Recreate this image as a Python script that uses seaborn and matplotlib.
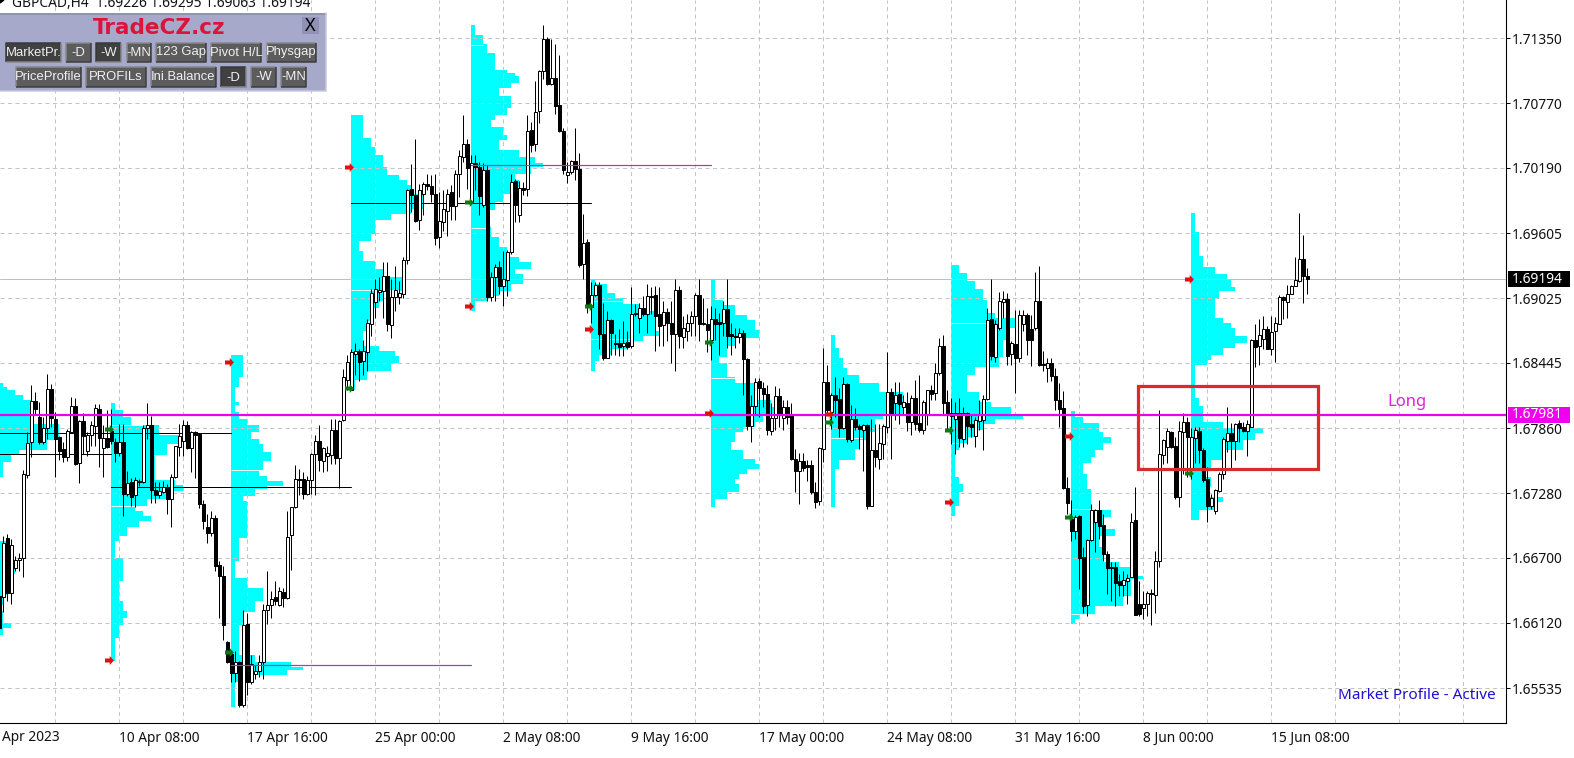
import numpy as np
import matplotlib
matplotlib.use("Agg")
import matplotlib.pyplot as plt
import seaborn as sns
from matplotlib.patches import Rectangle, Polygon
from matplotlib.path import Path

# prices are in broker points (1.67860 = 167860), first bar is bar -1
opens = [166355,
166346,166880,166385,166610,166682,166700,167444,167735,168104,167960,
167741,167864,168215,167945,167780,167675,167600,167831,168056,167546,
167921,167660,167804,167879,168035,167681,167774,167840,167741,167636,
167741,167270,167381,167261,167390,167375,167861,167891,167309,167261,
167294,167336,167225,167420,167690,167750,167885,167681,167831,167810,
167180,166979,166925,167054,166634,166541,165950,165836,165674,165770,
165380,166109,165590,165665,165686,165764,166235,166280,166346,166280,
166394,166340,166901,167156,167405,167405,167270,167396,167630,167750,
167570,167609,167624,167846,167594,
167930,168295,168205,168526,168550,168466,168544,168796,168994,169084,
169090,169225,168784,169036,169039,169066,169366,169999,169951,169720,
169954,170044,170029,169960,169570,169705,169804,169972,169849,170134,
170290,170404,169885,170230,170194,169855,170170,169036,169216,169306,
169135,169186,169435,170071,169765,170014,170005,170530,170404,170704,
171055,171340,170941,170995,170755,170524,170131,170155,170254,170176,
169330,169531,168949,169054,169144,168706,168490,168826,168625,168625,
168592,168631,168595,168880,168850,168934,168880,169045,169054,168880,
168784,168901,168805,168706,169096,168679,168730,168799,168865,169054,
168802,168793,168652,168838,168808,168802,168928,168706,168688,168676,
168712,168478,167881,168061,168283,168223,168163,167836,167953,168148,
167956,168046,167986,167581,167482,167563,167527,167527,167293,167206,
167677,168271,168007,168157,168121,167863,168256,167752,167941,167878,
167848,167887,167167,167662,167581,167722,167872,168187,168082,168163,
168052,168082,167917,168127,167908,167842,167977,168202,168172,168352,
168592,168091,167968,167947,168001,167767,168001,167896,167791,167926,
167932,168118,168838,168502,168757,168988,169018,168526,168616,168493,
168793,168877,168748,168757,169003,
168439,168400,168445,168325,168115,168040,167329,167050,166939,167071,
166705,166276,166861,167020,167125,166990,166735,166621,166621,166495,
166456,166495,166525,167035,166285,166249,166291,166387,166366,166669,
167620,167695,167830,167704,167245,167830,167914,167485,167770,167839,
167665,167410,167164,167119,167299,167455,167749,167815,167749,167911,
167869,167839,167875,168646,168595,168661,168751,168571,168730,168796,
169039,168994,169060,169135,169177,169375,169226]

highs = [166400,
166895,166910,166865,166715,166745,167486,167825,168245,168185,168095,
167960,168350,168260,168005,167795,167735,167855,168140,168131,167936,
167999,167825,167921,168080,168080,167885,168026,168035,167771,167900,
167900,167480,167414,167420,167405,167885,168086,167969,167375,167375,
167390,167360,167450,167705,167900,167930,167921,167840,167840,167816,
167216,167090,167120,167084,166670,166625,165956,165845,165866,165776,
166235,166205,165830,165740,165830,166286,166586,166400,166490,166436,
166430,167120,167159,167531,167495,167465,167435,167636,167804,167885,
167696,167705,167945,167945,167930,
168386,168520,168565,168625,168565,168646,168835,169105,169195,169210,
169345,169345,169195,169315,169180,169396,170005,170221,170446,170050,
170065,170140,170125,170140,169975,169990,170005,170035,170170,170350,
170665,170446,170305,170305,170245,170230,170215,169255,169330,169360,
169450,169456,170134,170095,170074,170065,170665,170605,170971,171070,
171466,171364,171340,171295,171205,170545,170245,170260,170545,170326,
169780,169555,169165,169165,169165,168985,168910,168835,168700,168745,
168820,168730,169120,168970,168985,169045,169150,169120,169135,169120,
169000,168940,169000,169195,169135,168865,168880,168910,169075,169195,
169027,168937,168952,168937,168892,168997,169192,168802,168757,168757,
168742,168487,168157,168307,168307,168277,168247,168082,168238,168217,
168112,168112,168082,167677,167638,167638,167572,167572,167377,167692,
168577,168427,168172,168322,168217,168322,168262,168067,168037,167902,
167902,167902,167947,167902,167902,167902,168547,168217,168277,168277,
168157,168187,168157,168292,168337,168112,168202,168247,168442,168667,
168697,168202,168127,168097,168127,168052,168007,167992,167962,168112,
168157,168937,169198,168832,169078,169087,169072,168637,168922,168922,
168922,168892,168877,169258,169312,
168550,168490,168490,168400,168265,168190,167425,167221,167080,167080,
166795,166870,167185,167140,167215,167095,166765,166660,166660,166555,
166585,166555,167101,167335,166495,166405,166405,166420,166765,168025,
167761,167860,167839,167785,167929,167995,167965,167860,167875,167869,
167680,167515,167275,167320,167470,167779,168049,167905,167905,167935,
167920,167935,168661,168790,168835,168865,168775,168865,168859,169051,
169045,169141,169141,169390,169789,169591,169295]

lows = [166070,
166220,166310,166286,166580,166580,166526,167414,167600,167990,167720,
167720,167765,167870,167420,167579,167555,167570,167825,167534,167366,
167630,167615,167705,167705,167510,167420,167684,167720,167555,167615,
167075,167255,167165,167156,167345,167366,167765,167195,167195,167240,
167285,167090,166979,167414,167615,167615,167675,167465,167414,167144,
166955,166835,166895,166580,166160,165965,165755,165590,165590,165365,
165365,165470,165575,165620,165635,165620,166106,166166,166280,166265,
166256,166334,166595,167150,167264,167225,167264,167270,167264,167480,
167471,167480,167540,167540,167324,
167924,168205,168205,168340,168280,168340,168370,168685,168850,169000,
168844,168730,168670,168910,168970,169030,169330,169795,169705,169636,
169765,169990,169885,169504,169471,169630,169585,169720,169726,169930,
170245,170005,169885,169990,169765,169840,169000,169000,169000,169060,
168955,169045,169420,169705,169705,169945,169939,170335,170344,170590,
170986,170929,170929,170671,170515,170140,170056,170134,170086,169306,
169195,168895,168805,169045,168565,168475,168490,168520,168520,168505,
168505,168565,168580,168865,168715,168865,168715,168880,168550,168595,
168595,168640,168445,168370,168580,168580,168640,168685,168685,168640,
168787,168547,168472,168652,168517,168682,168577,168517,168577,168622,
168157,167842,167737,167977,167962,168052,167797,167797,167842,167872,
167842,167902,167572,167287,167182,167482,167392,167272,167146,167176,
167557,167977,167857,167962,167782,167857,167737,167737,167842,167677,
167482,167137,167167,167512,167497,167587,167818,167587,167932,167902,
167977,167836,167797,167842,167827,167812,167887,168112,168112,168337,
167992,167857,167722,167632,167692,167692,167722,167782,167692,167842,
167662,168112,168472,168457,168742,168847,168427,168427,168178,168457,
168727,168517,168418,168742,168418,
168370,168271,168280,168025,167875,167320,167095,166855,166870,166420,
166210,166180,166855,166750,166870,166669,166375,166315,166270,166360,
166360,166285,166525,166186,166180,166150,166180,166099,166210,166621,
167539,167545,167680,167230,167155,167455,167425,167410,167545,167545,
167380,167020,167140,167089,167290,167410,167650,167485,167575,167740,
167830,167611,167869,168406,168430,168565,168565,168520,168451,168790,
168835,168850,169060,169129,169171,168985,169063]

closes = [166070,
166835,166385,166811,166685,166700,167450,167729,168104,168029,167741,
167861,168215,167954,167765,167660,167600,167840,168056,167540,167921,
167795,167804,167885,168044,167771,167774,167690,167750,167639,167741,
167270,167369,167249,167396,167375,167864,167891,167306,167264,167300,
167336,167231,167426,167699,167792,167885,167684,167831,167804,167180,
167030,166925,167054,166625,166541,166100,165770,165674,165764,165380,
166100,165590,165746,165686,165770,166235,166280,166334,166310,166400,
166340,166889,167156,167405,167399,167276,167396,167630,167750,167576,
167684,167639,167846,167594,167924,
168320,168454,168541,168550,168454,168550,168805,169075,169105,169096,
169219,168790,169036,169096,169075,169366,169996,169945,169714,169996,
170044,170032,169960,169561,169711,169825,169960,169846,170140,170296,
170404,170191,170230,170194,169936,170170,169036,169216,169306,169135,
169195,169435,170065,169861,170011,169996,170524,170395,170695,171055,
171346,170941,170995,170740,170524,170170,170155,170254,170176,169324,
169519,168970,169054,169144,168706,168490,168826,168715,168610,168586,
168625,168589,168880,168895,168934,168880,169045,169036,168865,168775,
168901,168805,168706,169096,168685,168760,168805,168865,169054,168790,
168790,168742,168838,168796,168796,168928,168688,168688,168673,168712,
168478,167878,168058,168277,168223,168163,167842,167956,168148,167992,
168046,167962,167581,167482,167563,167503,167512,167287,167197,167686,
168271,168022,168157,168112,167863,168256,167767,167947,167872,167854,
167887,167167,167662,167602,167728,167878,168181,167986,168157,168076,
168091,167917,168127,167902,167842,168091,168202,168166,168352,168598,
168082,167977,168001,168001,167776,168001,167878,167872,167932,167992,
168118,168826,168508,168793,168997,169018,168508,168622,168493,168871,
168877,168646,168646,168997,168424,
168427,168445,168325,168109,168034,167329,167191,166939,167065,166696,
166270,166861,167125,167125,166981,166735,166606,166609,166471,166459,
166504,166519,167020,166189,166195,166291,166384,166375,166669,167626,
167755,167836,167695,167245,167839,167914,167785,167779,167845,167665,
167401,167161,167239,167311,167455,167761,167821,167749,167899,167866,
167839,167896,168646,168586,168691,168751,168571,168724,168805,169039,
169006,169066,169135,169183,169375,169225,169194]

# bar index of the week each profile starts on, its top price and the
# row widths (bars) and row heights (points)
p0_start, p0_top = -3, 168268
p0_counts = [3,4,6,8,10,17,14,7,5,3,2,4,6,4,3,2,3,5,3]
p0_heights = [36,30,45,45,210,150,90,45,60,135,570,180,120,180,90,60,105,45,60]

p1_start, p1_top = 27, 168083
p1_counts = [1,3,5,12,17,14,11,11,16,18,14,9,6,8,10,7,4,2,1,3,2,3,4,3,2,1]
p1_heights = [60,60,75,90,75,105,75,150,45,45,75,60,45,45,45,60,75,45,150,210,180,90,60,60,120,210]

p2_start, p2_top = 57, 168515
p2_counts = [3,2,1,2,1,2,4,7,5,7,8,10,8,7,9,13,9,6,3,4,2,1,4,8,6,3,2,6,15,18,14,5,1]
p2_heights = [195,90,135,30,60,60,60,60,60,45,75,75,90,45,45,45,30,60,45,330,210,150,90,120,90,120,270,60,45,30,45,60,225]

p3_start, p3_top = 87, 170665
p3_counts = [3,5,6,8,9,12,14,15,18,15,10,6,5,2,3,6,8,13,8,7,5,4,3,7,11,12,10,4,1]
p3_heights = [210,75,75,105,75,45,45,75,135,45,60,120,60,90,90,75,75,120,90,60,120,90,135,45,45,60,75,75,90]

p4_start, p4_top = 117, 171466
p4_counts = [1,3,4,6,9,11,12,10,7,10,9,6,5,8,9,7,12,16,18,15,11,12,10,8,6,4,5,7,9,12,15,11,13,10,7,4,1]
p4_heights = [90,81,75,150,30,30,60,45,75,105,60,45,60,75,45,90,60,60,30,60,60,60,60,75,75,150,90,90,90,45,60,45,90,60,45,45,90]

p5_start, p5_top = 147, 169195
p5_counts = [1,4,6,8,12,16,17,13,9,5,2,1]
p5_heights = [45,75,45,60,60,180,45,45,75,45,60,90]

p6_start, p6_top = 177, 169192
p6_counts = [1,3,6,9,11,12,6,4,2,4,6,11,15,16,13,11,8,6,5,8,11,12,9,7,6,7,4,1]
p6_heights = [180,45,90,45,90,75,75,90,60,120,60,150,60,60,75,45,45,90,75,75,45,45,45,45,45,75,60,75]

p7_start, p7_top = 207, 168697
p7_counts = [1,2,3,4,7,12,18,13,11,9,7,6,2,1]
p7_heights = [120,90,90,60,75,75,195,45,120,75,75,105,75,345]

p8_start, p8_top = 237, 169318
p8_counts = [2,4,6,8,9,11,16,14,13,12,6,4,7,10,15,18,11,8,6,4,2,1,2,3,2,1]
p8_heights = [66,75,75,90,120,45,90,105,150,90,75,150,90,45,75,30,45,60,60,60,60,240,60,75,120,90]

p9_start, p9_top = 267, 168019
p9_counts = [1,3,7,8,10,8,6,5,3,4,5,10,8,11,7,8,12,15,18,15,13,6,2,1]
p9_heights = [54,60,75,45,60,60,60,60,90,135,195,60,105,60,105,135,45,75,30,150,90,75,45,45]

p10_start, p10_top = 297, 169789
p10_counts = [1,2,3,6,9,10,11,7,6,8,10,11,14,11,8,5,4,1,2,3,8,18,16,13,8,5,3,5,4,8,6,2]
p10_heights = [174,210,105,60,45,75,30,60,180,45,45,75,60,45,60,45,45,300,75,135,60,45,60,90,90,90,60,90,90,45,75,90]

profiles = [
    (p0_start, p0_top, p0_counts, p0_heights),
    (p1_start, p1_top, p1_counts, p1_heights),
    (p2_start, p2_top, p2_counts, p2_heights),
    (p3_start, p3_top, p3_counts, p3_heights),
    (p4_start, p4_top, p4_counts, p4_heights),
    (p5_start, p5_top, p5_counts, p5_heights),
    (p6_start, p6_top, p6_counts, p6_heights),
    (p7_start, p7_top, p7_counts, p7_heights),
    (p8_start, p8_top, p8_counts, p8_heights),
    (p9_start, p9_top, p9_counts, p9_heights),
    (p10_start, p10_top, p10_counts, p10_heights),
]

# value area edges inside the profiles
va_bars = [87, 117, 117, 147, 147, 177, 207, 237, 237, 267, 267, 27, 27, 57]
va_prices = [169095, 171290, 169650, 169000, 168655, 168310, 167770, 168805, 167730, 167135, 166200, 167890, 167165, 167485]
va_lengths = [12, 3, 4, 12, 10, 6, 8, 9, 4, 6, 6, 8, 7, 8]

# point of control lines
poc_prices = [167815, 167627, 167337, 169879]
poc_from = [-3, -3, 27, 87]
poc_to = [57, 27, 87, 147]
naked_prices = [165741, 170216]
naked_from = [57, 117]
naked_to = [117, 177]

red_bars = [86.4, 116.4, 146.4, 56.4, 26.4, 176.4, 206.4, 236.4, 266.4, 296.4]
red_prices = [170198, 168954, 168748, 168453, 165786, 167997, 167988, 167200, 167791, 169196]
green_bars = [86.4, 116.4, 146.4, 26.4, 56.4, 176.4, 206.4, 236.4, 266.4, 296.4]
green_prices = [168220, 169885, 168954, 167853, 165858, 168632, 167916, 167845, 167066, 167460]

y_ticks = [171350, 170770, 170190, 169605, 169025, 168445, 167860, 167280, 166700, 166120, 165535]
y_labels = ["1.71350", "1.70770", "1.70190", "1.69605", "1.69025", "1.68445",
            "1.67860", "1.67280", "1.66700", "1.66120", "1.65535"]
x_tick_bars = [29, 61, 93, 125, 157, 189, 221, 253, 285, 317]
x_labels = ["10 Apr 08:00", "17 Apr 16:00", "25 Apr 00:00", "2 May 08:00", "9 May 16:00",
            "17 May 00:00", "24 May 08:00", "31 May 16:00", "8 Jun 00:00", "15 Jun 08:00"]
x_grid_bars = list(range(13, 375, 16))

last_price = 169194
long_price = 167981
box_bars = [283.7, 328.6]
box_prices = [167495, 168238]

row1_labels = ["MarketPr.", "-D", "-W", "-MN", "123 Gap", "Pivot H/L", "Physgap"]
row1_left = [6, 66, 96, 127, 156, 211, 267]
row1_right = [61, 91, 121, 151, 206, 261, 316]
row1_down = [True, False, True, False, False, False, False]
row2_labels = ["PriceProfile", "PROFILs", "Ini.Balance", "-D", "-W", "-MN"]
row2_left = [16, 86, 151, 221, 251, 281]
row2_right = [81, 146, 216, 246, 276, 306]
row2_down = [False, False, False, True, False, False]

sns.set_style("white")
plt.rcParams["font.family"] = ["Noto Sans", "DejaVu Sans"]

W, H = 1574, 758
px = 72 / 100  # one pixel in points
label_size = 9.9

fig = plt.figure(figsize=(W / 100, H / 100), dpi=100, facecolor="white")
ax = fig.add_axes([0, 1 - 723.3 / H, 1505.7 / W, 723.3 / H])
ax.set_xlim(-0.8325, 375.59)
ax.set_ylim(1.652195, 1.71693)
ax.set_axisbelow(True)

# grid
for b in x_grid_bars:
    ax.axvline(b, color="#c4c4c4", lw=px, dashes=(4, 3.5), zorder=0.5)
for t in y_ticks:
    ax.axhline(t / 1e5, color="#c4c4c4", lw=px, dashes=(4, 3.5), zorder=0.5)

# market profiles
for start, top, counts, heights in profiles:
    edges = top - np.concatenate([[0], np.cumsum(heights)])
    right = start + np.array(counts + [counts[-1]], dtype=float)
    ax.fill_betweenx(edges / 1e5, start, right, step="post", color="#00ffff",
                     lw=0, antialiased=False, zorder=0.4)

for b, p, n in zip(va_bars, va_prices, va_lengths):
    ax.plot([b, b + n], [p / 1e5, p / 1e5], color="#e8ffff", lw=px, zorder=0.45)

# price lines
ax.axhline(last_price / 1e5, color="#c0c0c0", lw=px, zorder=1)
for p, a, b in zip(poc_prices, poc_from, poc_to):
    sns.lineplot(x=[a, b], y=[p / 1e5, p / 1e5], color="black", lw=px, ax=ax,
                 estimator=None, errorbar=None, zorder=2)
for p, a, b in zip(naked_prices, naked_from, naked_to):
    sns.lineplot(x=[a, b], y=[p / 1e5, p / 1e5], color="#a836c8", lw=px * 1.2, ax=ax,
                 estimator=None, errorbar=None, zorder=5)

# candles
o = np.array(opens) / 1e5
h = np.array(highs) / 1e5
l = np.array(lows) / 1e5
c = np.array(closes) / 1e5
bars = np.arange(len(o)) - 1

ax.vlines(bars, l, h, color="black", lw=px, snap=True, zorder=3)
up = c >= o
ax.bar(bars[up], (c - o)[up], bottom=o[up], width=0.66, color="white",
       edgecolor="black", lw=px, zorder=4)
ax.bar(bars[~up], (o - c)[~up], bottom=c[~up], width=0.66, color="black",
       edgecolor="black", lw=px, zorder=4)

# arrows
arrow = Path([(-1, 0.45), (0.05, 0.45), (0.05, 1), (1, 0), (0.05, -1), (0.05, -0.45), (-1, -0.45), (-1, 0.45)],
             closed=True)
sns.scatterplot(x=red_bars, y=np.array(red_prices) / 1e5, marker=arrow, color="#e01010",
                s=42, linewidth=0, ax=ax, zorder=6)
sns.scatterplot(x=green_bars, y=np.array(green_prices) / 1e5, marker=arrow, color="#0e7a14",
                s=42, linewidth=0, ax=ax, zorder=6)

# long level and red box
ax.axhline(long_price / 1e5, color="#ee00ee", lw=px * 2.2, zorder=5)
ax.add_patch(Rectangle((box_bars[0], box_prices[0] / 1e5), box_bars[1] - box_bars[0],
                       (box_prices[1] - box_prices[0]) / 1e5, fill=False,
                       edgecolor="#d92a2e", lw=px * 3.2, zorder=6))

# axes
for s in ["top", "left"]:
    ax.spines[s].set_visible(False)
for s in ["right", "bottom"]:
    ax.spines[s].set_color("black")
    ax.spines[s].set_linewidth(px * 1.1)
ax.yaxis.tick_right()
ax.set_yticks(np.array(y_ticks) / 1e5, labels=y_labels)
ax.set_xticks(x_tick_bars, labels=x_labels)
ax.tick_params(axis="y", length=3, width=px, color="black", pad=1.5, labelsize=label_size, labelcolor="#111111")
ax.tick_params(axis="x", length=3, width=px, color="black", pad=2.5, labelsize=label_size, labelcolor="#111111")
for t in ax.get_xticklabels():
    t.set_ha("left")
ax.text(-0.4, -0.0092, "Apr 2023", transform=ax.get_xaxis_transform(), ha="left", va="top",
        fontsize=label_size, color="#111111", clip_on=False)

# current price tags
yax = ax.get_yaxis_transform()
for price, label, bg in [(last_price, "1.69194", "black"), (long_price, "1.67981", "#f000f0")]:
    ax.add_patch(Rectangle((1.0012, price / 1e5 - 0.0007), 0.0412, 0.0014, transform=yax,
                           facecolor=bg, edgecolor="none", clip_on=False, zorder=7))
    ax.text(1.0042, price / 1e5, label, transform=yax, color="white", fontsize=label_size,
            va="center", ha="left", clip_on=False, zorder=8)

# everything placed by pixel goes on an overlay
over = fig.add_axes([0, 0, 1, 1], facecolor="none")
over.set_xlim(0, W)
over.set_ylim(H, 0)
over.axis("off")

over.text(1407, 402, "Long", color="#dc22dc", fontsize=12, ha="center", va="center")
over.text(1417, 695.5, "Market Profile - Active", color="#1e10d0", fontsize=11, ha="center", va="center")

# header, cut by the top edge as on the terminal
over.add_patch(Polygon([(0, 0), (4, 0), (0, 3)], color="black"))
over.text(12, 3.5, "GBPCAD,H4  1.69226 1.69295 1.69063 1.69194", color="#111111",
          fontsize=label_size, ha="left", va="center")


def button(left, right, top, bottom, label, down):
    face = "#404040" if down else "#5c5c5c"
    over.add_patch(Rectangle((left, top), right - left, bottom - top, facecolor=face, edgecolor="none"))
    hi = "#383838" if down else "#8a8a8a"
    lo = "#858585" if down else "#3c3c3c"
    over.plot([left, left, right], [bottom, top, top], color=hi, lw=px * 1.5, solid_capstyle="butt")
    over.plot([left, right, right], [bottom, bottom, top], color=lo, lw=px * 1.5, solid_capstyle="butt")
    t = over.text((left + right) / 2, (top + bottom) / 2 + (1 if down else 0), label, color="#f0f0f0",
                  fontsize=9.4, family="Liberation Sans", ha="center", va="center")
    t.set_clip_path(Rectangle((left, top), right - left, bottom - top, transform=over.transData))


# panel
over.add_patch(Rectangle((0, 13), 325.5, 78, facecolor="#a7a9ca", edgecolor="none"))
over.plot([0, 325.5], [13.5, 13.5], color="#8d8e99", lw=px * 1.5)
over.plot([325.5, 325.5], [13, 91], color="#c8c9e0", lw=px * 1.5)
over.plot([0, 325.5], [90.5, 90.5], color="#c8c9e0", lw=px * 1.5)
over.text(159, 28.5, "TradeCZ.cz", color="#dc143c", fontsize=15.5, fontweight="bold",
          family="DejaVu Sans", ha="center", va="center")
over.add_patch(Rectangle((302, 17), 17, 17, facecolor="#8f91b5", edgecolor="none"))
over.text(310.5, 26, "X", color="black", fontsize=13, ha="center", va="center")

for a, b, lab, d in zip(row1_left, row1_right, row1_labels, row1_down):
    button(a, b, 43, 62, lab, d)
for a, b, lab, d in zip(row2_left, row2_right, row2_labels, row2_down):
    button(a, b, 67, 87, lab, d)

fig.savefig("out.png", dpi=100)
